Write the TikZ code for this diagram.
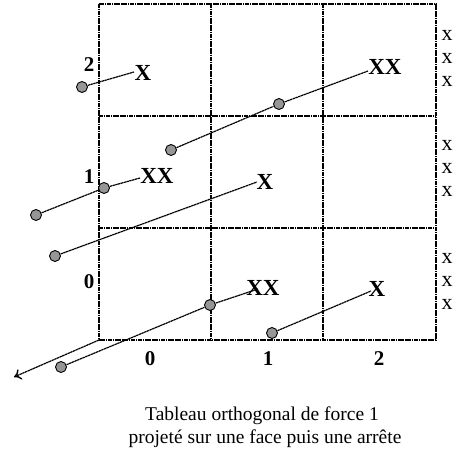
\documentclass[tikz,border=0pt]{standalone}
\usepackage{fontspec}
\setmainfont{Liberation Serif}
\usetikzlibrary{arrows.meta}
\definecolor{dotgray}{RGB}{150,150,150}
\tikzset{
  gridline/.style={line width=1.4pt, dash pattern=on 1.8pt off 0.5pt},
  conn/.style={line width=1.2pt, dash pattern=on 2.4pt off 0.5pt},
  dot/.style={circle, draw=black, line width=0.9pt, fill=dotgray, minimum size=11pt, inner sep=0pt},
  lab/.style={inner sep=0pt, font=\fontsize{23}{26}\selectfont\bfseries},
  num/.style={inner sep=0pt, font=\fontsize{21}{24}\selectfont\bfseries},
  side/.style={inner sep=0pt, font=\fontsize{22}{24}\selectfont},
  captext/.style={inner sep=0pt, anchor=base, font=\fontsize{19.5}{24}\selectfont}
}
\begin{document}
\begin{tikzpicture}[x=1pt,y=-1pt]
\useasboundingbox (0,0) rectangle (456,461);
% grid
\draw[gridline] (99,4) rectangle (436,340);
\draw[gridline] (211,4) -- (211,340);
\draw[gridline] (323,4) -- (323,340);
\draw[gridline] (99,116) -- (436,116);
\draw[gridline] (99,228) -- (436,228);
% axis labels
\node[num] (r2) at (89,65) {2};
\node[num] (r1) at (89,177) {1};
\node[num] (r0) at (89,282) {0};
\node[num] (c0) at (150,359) {0};
\node[num] (c1) at (268,359) {1};
\node[num] (c2) at (379,359) {2};
% side x
\foreach \y/\n in {35/a,58/b,81/c,145/d,168/e,191/f,258/g,281/h,304/i}
  \node[side] (s\n) at (447,\y) {x};
% cell labels
\node[lab] (l1) at (143,73) {X};
\node[lab] (l2) at (385,67) {XX};
\node[lab] (l3) at (157,176) {XX};
\node[lab] (l4) at (265,182) {X};
\node[lab] (l5) at (263,288) {XX};
\node[lab] (l6) at (377,289) {X};
% line ends
\coordinate (e1) at (134,72);
\coordinate (e2) at (368,71);
\coordinate (e3) at (140,178);
\coordinate (e4) at (257,182);
\coordinate (e5) at (258,289);
\coordinate (e6) at (371,291);
\coordinate (corner) at (99,340);
\coordinate (tip) at (14,377);
% dots
\node[dot] (d1) at (82,87) {};
\node[dot] (d2) at (171,150) {};
\node[dot] (d3) at (279,104) {};
\node[dot] (a) at (36,215) {};
\node[dot] (d4) at (104,188) {};
\node[dot] (d5) at (55,256) {};
\node[dot] (d6) at (61,367) {};
\node[dot] (d7) at (210,305) {};
\node[dot] (d8) at (272,333) {};
% connectors
\draw[conn] (d1) -- (e1);
\draw[conn] (d2) -- (d3) -- (e2);
\draw[conn] (a) -- (d4) -- (e3);
\draw[conn] (d5) -- (e4);
\draw[conn] (d6) -- (d7) -- (e5);
\draw[conn] (d8) -- (e6);
\draw[conn, -{To[length=7pt,width=11pt,line width=1.4pt]}] (corner) -- (tip);
% caption
\node[captext] (t1) at (262,420) {Tableau orthogonal de force 1};
\node[captext] (t2) at (265,443) {projeté sur une face puis une arrête};
\end{tikzpicture}
\end{document}
